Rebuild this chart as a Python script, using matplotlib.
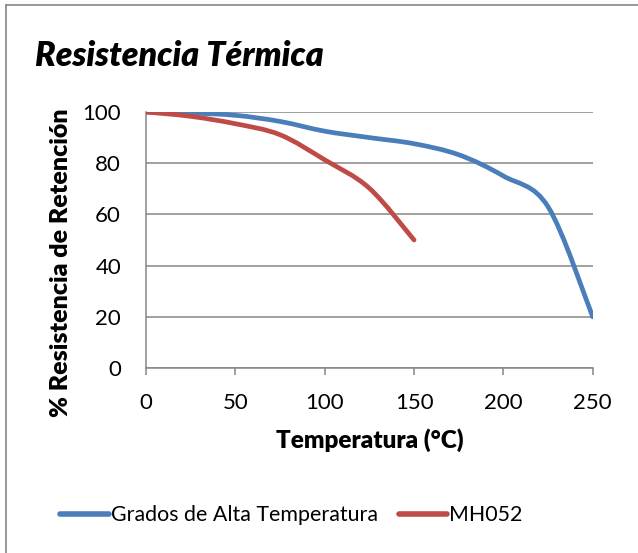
import numpy as np
import matplotlib.pyplot as plt
from matplotlib.path import Path
from matplotlib.patches import PathPatch
from matplotlib.lines import Line2D

plt.rcParams['font.family'] = ['Lato', 'DejaVu Sans']

# data
temp_alta = [0, 25, 50, 75, 100, 125, 150, 175, 200, 225, 250]
ret_alta = [100, 99.6, 98.7, 96.3, 92.5, 90, 87.6, 83.3, 75, 63, 20]
temp_mh = [0, 25, 50, 75, 100, 125, 150]
ret_mh = [100, 98.3, 95.4, 91.1, 81.3, 70.2, 50]

blue = '#4A7EBB'
red = '#BE4B48'
grid_c = '#868686'


def smooth_path(xs, ys):
    # Excel-like smoothed line: bezier segments through every point
    p = np.column_stack([xs, ys]).astype(float)
    n = len(p)
    verts = [p[0]]
    codes = [Path.MOVETO]
    for i in range(n - 1):
        p0 = p[i - 1] if i > 0 else p[i]
        p3 = p[i + 2] if i + 2 < n else p[i + 1]
        c1 = p[i] + (p[i + 1] - p0) / 6
        c2 = p[i + 1] - (p3 - p[i]) / 6
        verts += [c1, c2, p[i + 1]]
        codes += [Path.CURVE4] * 3
    return Path(verts, codes)


fig = plt.figure(figsize=(6.38, 5.53), dpi=100)
ax = fig.add_axes([0.229, 0.3345, 0.7, 0.463])

for xs, ys, c in [(temp_alta, ret_alta, blue), (temp_mh, ret_mh, red)]:
    ax.add_patch(PathPatch(smooth_path(xs, ys), fill=False, edgecolor=c,
                           lw=3.4, capstyle='round', joinstyle='round', zorder=3))

ax.set_xlim(0, 250)
ax.set_ylim(0, 100)
ax.set_xticks(np.arange(0, 251, 50))
ax.set_yticks(np.arange(0, 101, 20))
ax.grid(axis='y', color=grid_c, lw=1.1)
ax.set_axisbelow(True)
for s in ['top', 'right']:
    ax.spines[s].set_visible(False)
for s in ['left', 'bottom']:
    ax.spines[s].set_color(grid_c)
    ax.spines[s].set_linewidth(1.1)
ax.tick_params(axis='x', direction='out', length=5, width=1.1, color=grid_c,
               labelsize=16, pad=13)
ax.tick_params(axis='y', length=0, labelsize=16, pad=18)

ax.set_xlabel('Temperatura (°C)', fontsize=17.5, fontweight='heavy', labelpad=11)
ax.set_ylabel('% Resistencia de Retención', fontsize=18, fontweight='heavy')
ax.yaxis.set_label_coords(-0.165, 0.41)

fig.text(0.055, 0.88, 'Resistencia Térmica', fontsize=24.4, fontweight='heavy',
         fontstyle='italic', va='baseline')

handles = [Line2D([], [], color=blue, lw=4, solid_capstyle='round'),
           Line2D([], [], color=red, lw=4, solid_capstyle='round')]
fig.legend(handles, ['Grados de Alta Temperatura', 'MH052'], loc='center',
           bbox_to_anchor=(0.457, 0.068), ncol=2, frameon=False, fontsize=15.4,
           handlelength=2.25, handletextpad=0.1, columnspacing=1.0)

# chart border (only left and top visible in the crop)
fig.add_artist(Line2D([0.0095, 0.0095], [0, 0.991], color=grid_c, lw=1.2))
fig.add_artist(Line2D([0.0095, 1.0], [0.991, 0.991], color=grid_c, lw=1.2))

fig.savefig('out.png', dpi=100)
